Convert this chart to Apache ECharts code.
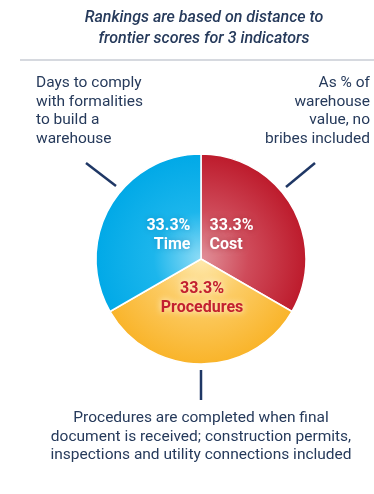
<!DOCTYPE html>
<html lang="en">
<head>
    <meta charset="utf-8">
    <title>Dealing with construction permits</title>
    <script src="https://cdn.jsdelivr.net/npm/echarts@6/dist/echarts.min.js"></script>
    <style>
        html, body { margin: 0; padding: 0; background: #fff; }
    </style>
</head>
<body>
    <div id="main" style="width: 374px;height:494px;"></div>
<script type="text/javascript">
    // 数据
    var categories = ['Cost', 'Procedures', 'Time'];
    var shares = [33.3, 33.3, 33.3];
    var headline = ['Rankings are based on distance to', 'frontier scores for 3 indicators'];
    var timeNote = ['Days to comply', 'with formalities', 'to build a', 'warehouse'];
    var costNote = ['As % of', 'warehouse', 'value, no', 'bribes included'];
    var procNote = ['Procedures are completed when final',
        'document is received; construction permits,',
        'inspections and utility connections included'];

    var FONT = 'Roboto, "Noto Sans", sans-serif';
    var NAVY = '#263a5b';
    var cx = 201, cy = 259, R = 105;

    function glow(inner, mid, outer) {
        return {
            type: 'radial', x: cx, y: cy, r: R, global: true,
            colorStops: [
                { offset: 0, color: inner },
                { offset: 0.45, color: mid },
                { offset: 1, color: outer }
            ]
        };
    }
    var fills = [
        glow('#e1919a', '#cf4b5a', '#bd1b2c'),
        glow('#fee9ad', '#fccb63', '#f9b42a'),
        glow('#8fdcf6', '#1cb6ec', '#01a9e7')
    ];
    var labelColors = ['#ffffff', '#c3202f', '#ffffff'];
    var labelShadows = ['rgba(120,10,20,0.45)', 'rgba(255,255,255,0.95)', 'rgba(0,90,150,0.45)'];
    // 标签微调
    var labelShift = [
        { dx: -39.5, dy: 4.5, align: 'left' },
        { dx: 1, dy: -16, align: 'center' },
        { dx: 37.5, dy: 4.5, align: 'right' }
    ];

    var pieData = categories.map(function (name, i) {
        return {
            name: name,
            value: shares[i],
            itemStyle: { color: fills[i] },
            label: {
                color: labelColors[i],
                textShadowColor: labelShadows[i],
                textShadowBlur: 6
            }
        };
    });

    function textEl(lines, x, y, align, size, italic) {
        return {
            type: 'text',
            x: x,
            y: y,
            style: {
                text: lines.join('\n'),
                fill: NAVY,
                font: (italic ? 'italic 500 ' : '') + size + 'px ' + FONT,
                align: align,
                textAlign: align,
                verticalAlign: 'top',
                textVerticalAlign: 'top',
                lineHeight: italic ? 21 : 18.5
            }
        };
    }
    function lineEl(x1, y1, x2, y2, color, w) {
        return {
            type: 'line',
            shape: { x1: x1, y1: y1, x2: x2, y2: y2 },
            style: { stroke: color, lineWidth: w }
        };
    }

    var myChart = echarts.init(document.getElementById('main'));

    var option = {
        animation: false,
        graphic: [
            textEl(headline, 204, 7, 'center', 16, true),
            lineEl(20, 60, 374, 60, '#c8cdd4', 1.5),
            textEl(timeNote, 36, 74, 'left', 15.5, false),
            textEl(costNote, 370, 74, 'right', 15.5, false),
            textEl(procNote, 201, 409, 'center', 15.5, false),
            lineEl(86, 163, 116, 186, '#1f3765', 2.5),
            lineEl(315, 163, 286, 187, '#1f3765', 2.5),
            lineEl(201, 370, 201, 400, '#1f3765', 2.5)
        ],
        series: [{
            type: 'pie',
            center: [cx, cy],
            radius: R,
            startAngle: 90,
            clockwise: true,
            silent: true,
            percentPrecision: 1,
            itemStyle: {
                borderColor: '#ffffff',
                borderWidth: 1.5
            },
            label: {
                show: true,
                position: 'inside',
                fontFamily: FONT,
                formatter: function (p) {
                    return '{v|' + p.value + '%}\n{n|' + p.name + '}';
                },
                rich: {
                    v: { fontSize: 16, fontWeight: 'bold', fontFamily: FONT, lineHeight: 19 },
                    n: { fontSize: 16, fontWeight: 'bold', fontFamily: FONT, lineHeight: 19 }
                }
            },
            labelLine: { show: false },
            labelLayout: function (params) {
                return labelShift[params.dataIndex];
            },
            data: pieData
        }]
    };

    myChart.setOption(option);
</script>
</body>
</html>
